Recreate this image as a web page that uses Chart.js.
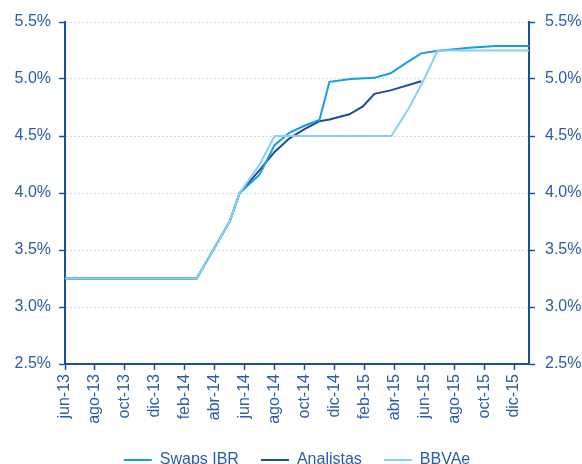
<!DOCTYPE html>
<html>
<head>
<meta charset="utf-8">
<script src="https://cdn.jsdelivr.net/npm/chart.js@4.4.1/dist/chart.umd.min.js"></script>
<style>
  html, body { margin: 0; padding: 0; background: #ffffff; }
  #wrap { width: 582px; height: 464px; }
</style>
</head>
<body>
<div id="wrap"><canvas id="chart" width="582" height="464"></canvas></div>
<script>
// Bimonthly axis labels; the x value of label i is 2*i months after jun-13
const tickLabels = ['jun-13','ago-13','oct-13','dic-13','feb-14','abr-14','jun-14','ago-14',
                    'oct-14','dic-14','feb-15','abr-15','jun-15','ago-15','oct-15','dic-15'];

// Months elapsed since jun-13 and the rate (%) at each point
const swapsMonths = [0, 8.8, 11, 11.67, 13, 14, 15, 16, 17, 17.67, 19.1, 20.67, 21.75, 22.9, 23.8, 24.8, 27, 28.8, 31];
const swapsRates  = [3.25, 3.25, 3.75, 4.0, 4.16, 4.42, 4.53, 4.59, 4.64, 4.975, 5.0, 5.01, 5.05, 5.15, 5.225, 5.245, 5.275, 5.29, 5.29];

const analistasMonths = [0, 8.8, 11, 11.67, 13, 14, 15, 16, 17, 17.67, 19, 19.9, 20.67, 21.75, 23.8];
const analistasRates  = [3.25, 3.25, 3.75, 4.0, 4.2, 4.36, 4.48, 4.56, 4.63, 4.645, 4.69, 4.76, 4.87, 4.9, 4.98];

const bbvaMonths = [0, 8.8, 11, 11.67, 13, 14, 21.8, 23, 24, 24.9, 31];
const bbvaRates  = [3.25, 3.25, 3.75, 4.0, 4.25, 4.5, 4.5, 4.75, 5.0, 5.25, 5.25];

const seriesNames = ['Swaps IBR', 'Analistas', 'BBVAe'];

const AXIS = '#1d4f9e';
const TEXT = '#2a5caa';
const GRID = '#bfe3f6';
const COLORS = ['#169fdf', '#1c4c9c', '#88d0f2'];
const FONT = { family: '"Liberation Sans", Arial, sans-serif', size: 16 };

const toPoints = (xs, ys) => xs.map((x, i) => ({ x: x, y: ys[i] }));

// Fixed legend box height so the row sits low under the axis labels
const legendHeight = {
  id: 'legendHeight',
  beforeInit(chart) {
    const fit = chart.legend.fit;
    chart.legend.fit = function () { fit.call(this); this.height = 34; };
  }
};

const lineSet = (idx, pts, order) => ({
  label: seriesNames[idx],
  data: pts,
  borderColor: COLORS[idx],
  backgroundColor: COLORS[idx],
  borderWidth: 2,
  pointRadius: 0,
  tension: 0,
  fill: false,
  order: order
});

new Chart(document.getElementById('chart'), {
  type: 'line',
  data: {
    datasets: [
      lineSet(0, toPoints(swapsMonths, swapsRates), 1),
      lineSet(1, toPoints(analistasMonths, analistasRates), 2),
      lineSet(2, toPoints(bbvaMonths, bbvaRates), 0)
    ]
  },
  options: {
    responsive: false,
    animation: false,
    devicePixelRatio: 1,
    layout: { padding: { top: 22, left: 0, right: 0, bottom: 0 } },
    plugins: {
      tooltip: { enabled: false },
      legend: {
        position: 'bottom',
        fullSize: false,
        labels: {
          font: FONT,
          color: TEXT,
          boxWidth: 28,
          boxHeight: 2,
          padding: 22,
          sort: (a, b) => a.datasetIndex - b.datasetIndex,
          generateLabels: (chart) =>
            Chart.defaults.plugins.legend.labels.generateLabels(chart).map(l =>
              Object.assign(l, { fillStyle: COLORS[l.datasetIndex], lineWidth: 0 }))
        }
      }
    },
    scales: {
      x: {
        type: 'linear',
        min: 0,
        max: 31,
        afterBuildTicks: (s) => { s.ticks = tickLabels.map((_, i) => ({ value: 2 * i })); },
        afterFit: (s) => { s.height = 66; },
        ticks: {
          callback: (v) => tickLabels[Math.round(v / 2)],
          autoSkip: false,
          maxRotation: 90,
          minRotation: 90,
          font: FONT,
          color: TEXT,
          padding: 4
        },
        grid: { drawOnChartArea: false, tickLength: 6, tickColor: AXIS, tickWidth: 1.5 },
        border: { color: AXIS, width: 2 }
      },
      y: {
        position: 'left',
        min: 2.5,
        max: 5.5,
        afterFit: (s) => { s.width = 65; },
        ticks: {
          stepSize: 0.5,
          callback: (v) => v.toFixed(1) + '%',
          font: FONT,
          color: TEXT,
          padding: 8
        },
        grid: {
          color: (c) => (c.tick && c.tick.value === 2.5) ? 'rgba(0,0,0,0)' : GRID,
          lineWidth: 1,
          tickLength: 6,
          tickColor: AXIS,
          tickWidth: 1.5
        },
        border: { color: AXIS, width: 2, dash: [2, 2] }
      },
      y2: {
        position: 'right',
        min: 2.5,
        max: 5.5,
        afterFit: (s) => { s.width = 53; },
        ticks: {
          stepSize: 0.5,
          callback: (v) => v.toFixed(1) + '%',
          font: FONT,
          color: TEXT,
          padding: 10
        },
        grid: { drawOnChartArea: false, tickLength: 6, tickColor: AXIS, tickWidth: 1.5 },
        border: { color: AXIS, width: 2 }
      }
    }
  },
  plugins: [legendHeight]
});
</script>
</body>
</html>
